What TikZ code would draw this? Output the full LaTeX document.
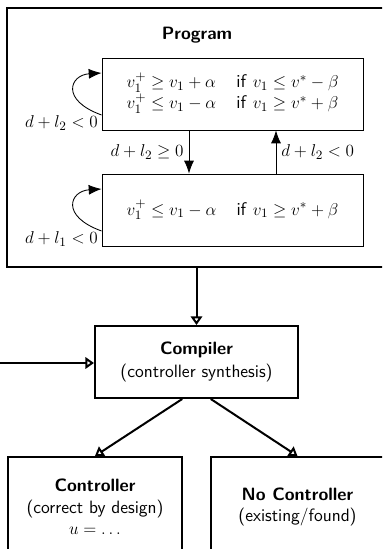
\documentclass[tikz,border=0pt]{standalone}
\usetikzlibrary{arrows.meta,fit}
\begin{document}
\begin{tikzpicture}[x=0.7pt,y=-0.7pt,
  box/.style={draw, line width=0.6pt, inner sep=0pt},
  bigbox/.style={draw, line width=1.4pt, inner sep=0pt},
  txt/.style={font=\fontsize{12.5}{15}\selectfont\sffamily, align=center, inner sep=0pt},
  lbl/.style={font=\fontsize{12.8}{14}\selectfont, inner sep=0pt},
  tr/.style={-{Latex[length=9pt,width=7pt]}, line width=0.6pt},
  flow/.style={-{Triangle[open,length=6pt,width=8pt]}, line width=1.4pt}]
\useasboundingbox (0,0) rectangle (382,549);
\clip (0,0) rectangle (382,549);
% boxes
\node[bigbox, fit={(7,8) (395,267)}] (prog) {};
\node[txt, font=\fontsize{12.5}{15}\selectfont\sffamily\bfseries] (progt) at (197,35) {Program};
\node[box, fit={(102,58) (363,130)}] (s1) {};
\node[box, fit={(102,174) (363,246)}] (s2) {};
\node[lbl] (s1t) at (s1.center) {\begin{tabular}{@{}l@{\hspace{1.1em}}l@{}}
$v_1^+ \geq v_1 + \alpha$ & \textsf{if} $v_1 \leq v^* - \beta$\\
$v_1^+ \leq v_1 - \alpha$ & \textsf{if} $v_1 \geq v^* + \beta$
\end{tabular}};
\node[lbl] (s2t) at (s2.center) {$v_1^+ \leq v_1 - \alpha$\hspace{1.1em}\textsf{if} $v_1 \geq v^* + \beta$};
\node[bigbox, fit={(95,326) (298,398)}] (comp) {};
\node[txt, font=\fontsize{12.5}{16}\selectfont\sffamily] (compt) at (comp.center) {\textbf{Compiler}\\(controller synthesis)};
\node[bigbox, fit={(8,457) (182,557)}] (ctrl) {};
\node[txt] (ctrlt) at (ctrl.center) {\textbf{Controller}\\(correct by design)\\$u = \dots$};
\node[bigbox, fit={(211,457) (384,557)}] (nc) {};
\node[txt] (nct) at (nc.center) {\textbf{No Controller}\\(existing/found)};
% state transitions
\coordinate (xd) at (189,0);
\coordinate (xu) at (276,0);
\draw[tr] (s1.south -| xd) -- node[lbl, midway, left=3.5pt] (ld) {$d + l_2 \geq 0$} (s2.north -| xd);
\draw[tr] (s2.north -| xu) -- node[lbl, midway, right=3.5pt] (lu) {$d + l_2 < 0$} (s1.south -| xu);
\draw[tr] (s1.west |- 0,115) .. controls (60,100) and (70,75) .. (s1.west |- 0,73);
\node[lbl, anchor=south east] (l1) at ([xshift=-2.5pt]s1.south west) {$d + l_2 < 0$};
\draw[tr] (s2.west |- 0,231) .. controls (60,216) and (70,191) .. (s2.west |- 0,189);
\node[lbl, anchor=south east] (l2) at ([xshift=-2.5pt]s2.south west) {$d + l_1 < 0$};
% flow
\draw[flow] (prog.south -| comp.north) -- (comp.north);
\coordinate (inp) at (-5,363);
\draw[flow] (inp) -- (inp -| comp.west);
\draw[flow] ([xshift=-10pt]comp.south) -- (ctrl.north);
\draw[flow] ([xshift=10pt]comp.south) -- (nc.north);
\end{tikzpicture}
\end{document}
